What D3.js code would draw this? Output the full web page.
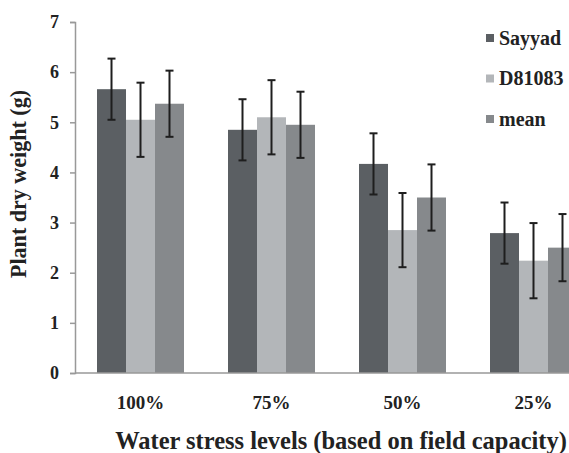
<!DOCTYPE html>
<html><head><meta charset="utf-8">
<script src="https://cdn.jsdelivr.net/npm/d3@7"></script>
<style>body{margin:0;background:#fff}svg{display:block}</style>
</head><body>
<svg id="c" width="569" height="453"></svg>
<script>
const categories = ["100%", "75%", "50%", "25%"];
const seriesNames = ["Sayyad", "D81083", "mean"];
const sayyad = [5.66, 4.85, 4.17, 2.79];
const d81083 = [5.05, 5.10, 2.85, 2.24];
const meanVals = [5.37, 4.95, 3.50, 2.50];
const sayyadErr = [0.61, 0.61, 0.61, 0.61];
const d81083Err = [0.74, 0.74, 0.74, 0.75];
const meanErr = [0.66, 0.66, 0.66, 0.67];
const yTicks = [0, 1, 2, 3, 4, 5, 6, 7];
const colors = ["#5b5f63", "#b3b6b9", "#86898c"];

const values = [sayyad, d81083, meanVals];
const errs = [sayyadErr, d81083Err, meanErr];

const svg = d3.select("#c");
const font = "Liberation Serif, Times New Roman, DejaVu Serif, serif";
const x0 = d3.scaleBand().domain(categories).range([75, 599]).paddingInner(0.336).paddingOuter(0.168);
const x1 = d3.scaleBand().domain(seriesNames).range([0, x0.bandwidth()]);
const y = d3.scaleLinear().domain([0, 7]).range([373, 22]);

function fit(sel, target) {
  const n = sel.node();
  const w = n.getComputedTextLength();
  const fs = parseFloat(sel.attr("font-size"));
  if (w > 0) sel.attr("font-size", (fs * target / w).toFixed(2));
}

const data = [];
categories.forEach((c, i) => seriesNames.forEach((s, j) => data.push({c, s, j, v: values[j][i], e: errs[j][i]})));

// bars
svg.append("g").selectAll("rect").data(data).join("rect")
  .attr("x", d => x0(d.c) + x1(d.s))
  .attr("y", d => y(d.v))
  .attr("width", x1.bandwidth())
  .attr("height", d => y(0) - y(d.v))
  .attr("fill", d => colors[d.j]);

// error bars
const eg = svg.append("g").attr("stroke", "#1e1e1e").attr("stroke-width", 2);
data.forEach(d => {
  const cx = x0(d.c) + x1(d.s) + x1.bandwidth() / 2;
  eg.append("line").attr("x1", cx).attr("x2", cx).attr("y1", y(d.v + d.e)).attr("y2", y(d.v - d.e));
  eg.append("line").attr("x1", cx - 4).attr("x2", cx + 4).attr("y1", y(d.v + d.e)).attr("y2", y(d.v + d.e));
  eg.append("line").attr("x1", cx - 4).attr("x2", cx + 4).attr("y1", y(d.v - d.e)).attr("y2", y(d.v - d.e));
});

// y axis
const ya = svg.append("g").attr("transform", "translate(75,0)")
  .call(d3.axisLeft(y).tickValues(yTicks).tickSize(5).tickPadding(11).tickFormat(d3.format("d")));
ya.select(".domain").attr("stroke", "#999").attr("stroke-width", 1.5);
ya.selectAll(".tick line").attr("stroke", "#999").attr("stroke-width", 1.5);
ya.selectAll("text").attr("font-family", font).attr("font-weight", "bold").attr("font-size", 18).attr("fill", "#222");

// x axis line
svg.append("line").attr("x1", 75).attr("x2", 569).attr("y1", y(0)).attr("y2", y(0))
  .attr("stroke", "#999").attr("stroke-width", 1.5);
svg.append("g").selectAll("text").data(categories).join("text")
  .attr("x", d => x0(d) + x0.bandwidth() / 2).attr("y", 409)
  .attr("text-anchor", "middle").attr("font-family", font).attr("font-weight", "bold")
  .attr("font-size", 19).attr("fill", "#222").text(d => d);

// titles
const xt = svg.append("text").attr("x", 341).attr("y", 449).attr("text-anchor", "middle")
  .attr("font-family", font).attr("font-weight", "bold").attr("font-size", 19).attr("fill", "#222")
  .text("Water stress levels (based on field capacity)");
fit(xt, 452);
const yt = svg.append("text").attr("transform", "translate(26,184) rotate(-90)").attr("text-anchor", "middle")
  .attr("font-family", font).attr("font-weight", "bold").attr("font-size", 19).attr("fill", "#222")
  .text("Plant dry weight (g)");
fit(yt, 188);

// legend
const lg = svg.append("g").selectAll("g").data(seriesNames).join("g")
  .attr("transform", (d, i) => `translate(486,${38 + i * 40.5})`);
lg.append("rect").attr("x", 0).attr("y", -4).attr("width", 8).attr("height", 8).attr("fill", (d, i) => colors[i]);
lg.append("text").attr("x", 13).attr("y", 6.5).attr("font-family", font).attr("font-weight", "bold")
  .attr("font-size", 20).attr("fill", "#222").text(d => d);
</script>
</body></html>
